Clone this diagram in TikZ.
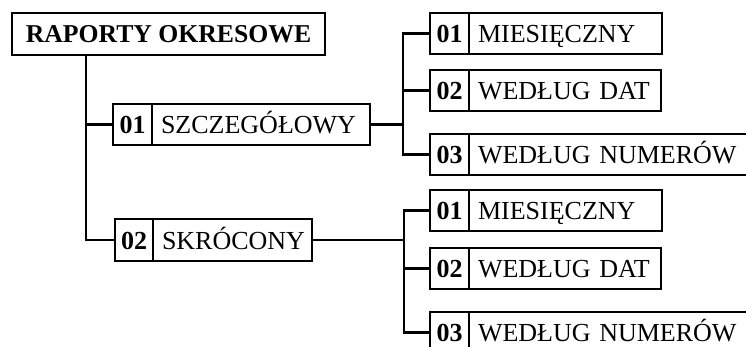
\documentclass[tikz,border=0pt]{standalone}
\usepackage{fontspec}
\setmainfont{Liberation Serif}
\usetikzlibrary{positioning}

\begin{document}
\begin{tikzpicture}[x=1pt, y=-1pt,
  every node/.style={font=\fontsize{26}{28}\selectfont, outer sep=0pt},
  cell/.style={draw, line width=2.6pt, minimum height=41pt, inner ysep=0pt, text height=18pt, text depth=0pt, anchor=north west},
  numcell/.style={cell, minimum width=39pt, inner xsep=0pt, font=\fontsize{26}{28}\selectfont\bfseries},
  labcell/.style={cell, inner xsep=9pt, align=left},
  wire/.style={line width=2.6pt}]
\useasboundingbox (0,0) rectangle (746,347);
% root
\node[cell, minimum width=313pt, minimum height=42pt, inner xsep=0pt, font=\fontsize{25.7}{28}\selectfont\bfseries] (root) at (12,13) {RAPORTY OKRESOWE};
% first level
\node[numcell] (a) at (113,104) {01};
\node[labcell, text width=200pt] (aa) at (a.north east) {SZCZEGÓŁOWY};
\node[numcell, minimum width=38pt, minimum height=42pt] (b) at (115,219) {02};
\node[labcell, text width=141pt, minimum height=42pt] (bb) at (b.north east) {SKRÓCONY};
% second level, under 01
\node[numcell] (a1) at (430,13) {01};
\node[labcell, text width=175pt] (a1l) at (a1.north east) {MIESIĘCZNY};
\node[numcell] (a2) at (430,70) {02};
\node[labcell, text width=174pt] (a2l) at (a2.north east) {\mbox{WEDŁUG DAT}};
\node[numcell] (a3) at (430,134) {03};
\node[labcell, text width=273pt] (a3l) at (a3.north east) {WEDŁUG NUMERÓW};
% second level, under 02
\node[numcell] (b1) at (430,190) {01};
\node[labcell, text width=175pt] (b1l) at (b1.north east) {MIESIĘCZNY};
\node[numcell] (b2) at (430,248) {02};
\node[labcell, text width=174pt] (b2l) at (b2.north east) {\mbox{WEDŁUG DAT}};
\node[numcell] (b3) at (430,312) {03};
\node[labcell, text width=273pt] (b3l) at (b3.north east) {WEDŁUG NUMERÓW};
% joints
\coordinate (trunk) at (86,0);
\coordinate (ja) at (403,0);
\coordinate (jb) at (404,0);
\draw[wire] (root.south -| trunk) |- (b.west);
\draw[wire] (a.west -| trunk) -- (a.west);
\draw[wire] (aa.east) -- (aa.east -| ja);
\draw[wire] (a1.west) -| (ja |- a3.west) -- (a3.west);
\draw[wire] (a2.west -| ja) -- (a2.west);
\draw[wire] (bb.east) -- (bb.east -| jb);
\draw[wire] (b1.west) -| (jb |- b3.west) -- (b3.west);
\draw[wire] (b2.west -| jb) -- (b2.west);
\end{tikzpicture}
\end{document}
